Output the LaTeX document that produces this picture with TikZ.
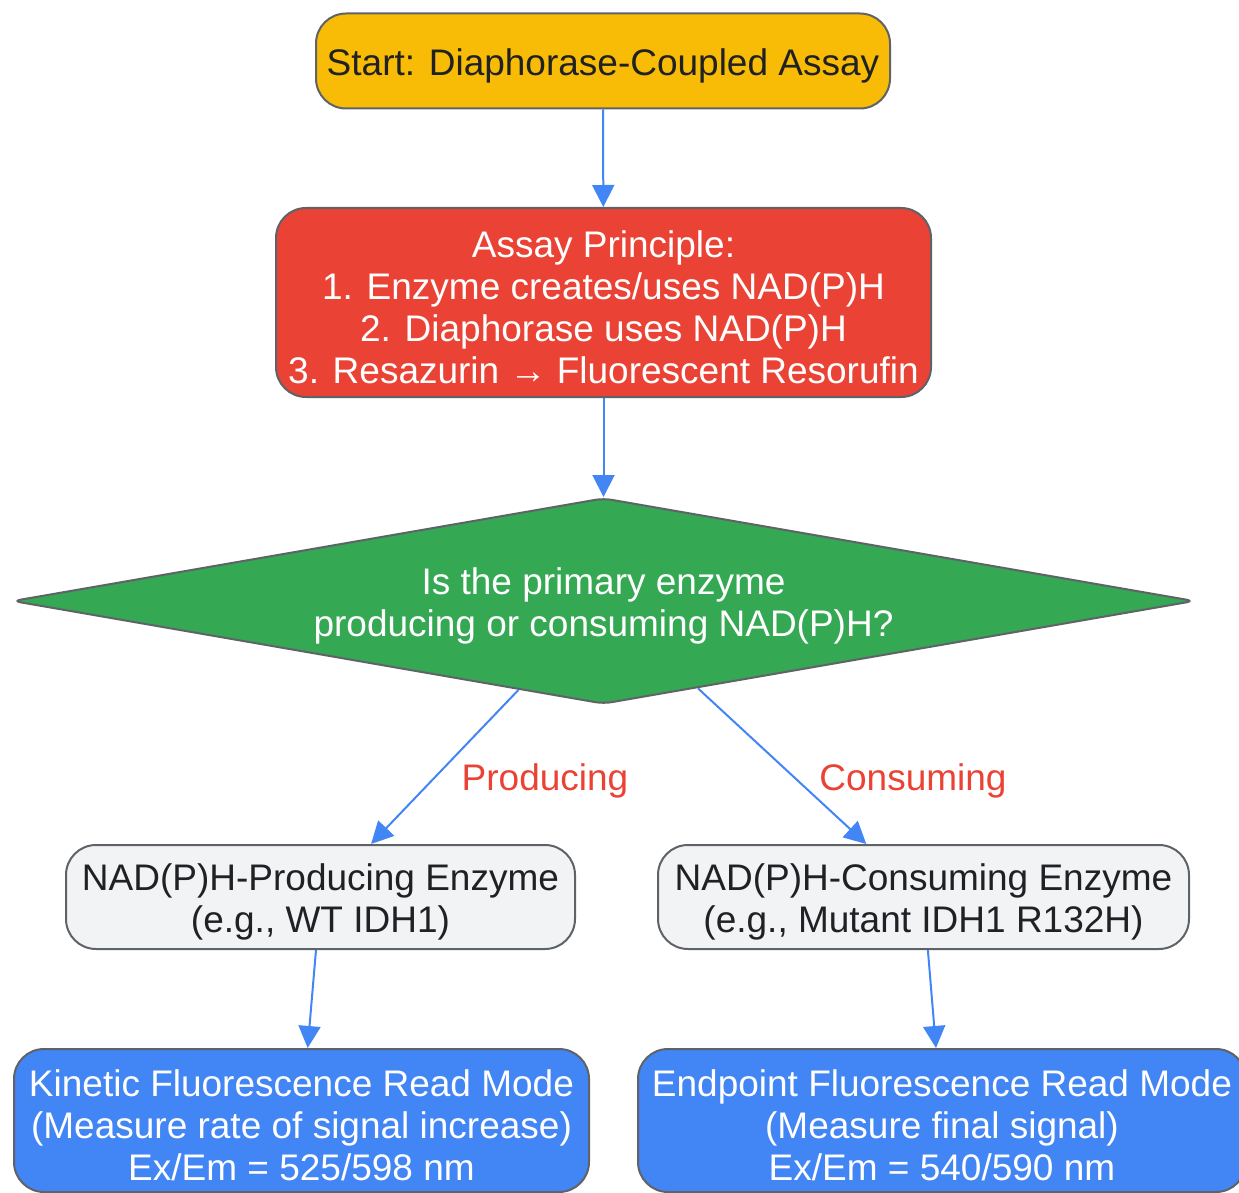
\documentclass[tikz,border=0pt]{standalone}
\usepackage{fontspec}
\setmainfont{Liberation Sans}
\usetikzlibrary{shapes.geometric,arrows.meta}

\definecolor{startyellow}{HTML}{F9BC06}
\definecolor{prinred}{HTML}{EA4335}
\definecolor{decgreen}{HTML}{34A853}
\definecolor{enzgray}{HTML}{F1F3F4}
\definecolor{readblue}{HTML}{4285F4}
\definecolor{edgegray}{HTML}{5F6368}
\definecolor{darktext}{HTML}{202124}

\newcommand{\boxstrut}{\rule{0pt}{18.5pt}}

\tikzset{
	box/.style={draw=edgegray, line width=1pt, rounded corners=15pt, align=center,
		inner sep=0pt, font=\fontsize{18.5pt}{21pt}\selectfont},
	flow/.style={draw=readblue, line width=1pt, -{Triangle[length=11pt,width=11pt]}},
	lbl/.style={text=prinred, font=\fontsize{18.5pt}{21pt}\selectfont}
}

\begin{document}
\begin{tikzpicture}[x=0.5pt, y=-0.5pt]

	\useasboundingbox (0,0) rectangle (1239,1193);

	% steps
	\node[box, fill=startyellow, text=darktext, minimum width=287pt, minimum height=47.5pt]
		(start) at (603,61) {\boxstrut Start: Diaphorase-Coupled Assay};
	\node[box, fill=prinred, text=white, minimum width=327.5pt, minimum height=94.5pt]
		(principle) at (603.5,302.5) {\boxstrut Assay Principle:\\1. Enzyme creates/uses NAD(P)H\\2. Diaphorase uses NAD(P)H\\3. Resazurin \textrightarrow{} Fluorescent Resorufin};

	% decision
	\node[box, diamond, rounded corners=4pt, aspect=5.78, fill=decgreen, text=white,
		minimum width=591pt, minimum height=103pt]
		(decision) at (603.5,601) {\boxstrut Is the primary enzyme\\producing or consuming NAD(P)H?};

	% enzymes
	\node[box, fill=enzgray, text=darktext, minimum width=254.5pt, minimum height=52pt]
		(producer) at (320.5,897) {\boxstrut NAD(P)H-Producing Enzyme\\(e.g., WT IDH1)};
	\node[box, fill=enzgray, text=darktext, minimum width=265.5pt, minimum height=52pt]
		(consumer) at (923.5,897) {\boxstrut NAD(P)H-Consuming Enzyme\\(e.g., Mutant IDH1 R132H)};

	% read modes
	\node[box, fill=readblue, text=white, minimum width=287.5pt, minimum height=71.5pt]
		(kinetic) at (301.5,1120.5) {\boxstrut Kinetic Fluorescence Read Mode\\(Measure rate of signal increase)\\Ex/Em = 525/598 nm};
	\node[box, fill=readblue, text=white, minimum width=304pt, minimum height=71.5pt]
		(endpoint) at (942,1120.5) {\boxstrut Endpoint Fluorescence Read Mode\\(Measure final signal)\\Ex/Em = 540/590 nm};

	% connectors
	\draw[flow] (start) -- (principle);
	\draw[flow] (principle) -- (decision);
	\draw[flow] (decision) -- (producer);
	\draw[flow] (decision) -- (consumer);
	\draw[flow] (producer) -- (kinetic);
	\draw[flow] (consumer) -- (endpoint);

	% branch labels
	\node[lbl] (lproducing) at (545,781) {Producing};
	\node[lbl] (lconsuming) at (913,781) {Consuming};

\end{tikzpicture}
\end{document}
